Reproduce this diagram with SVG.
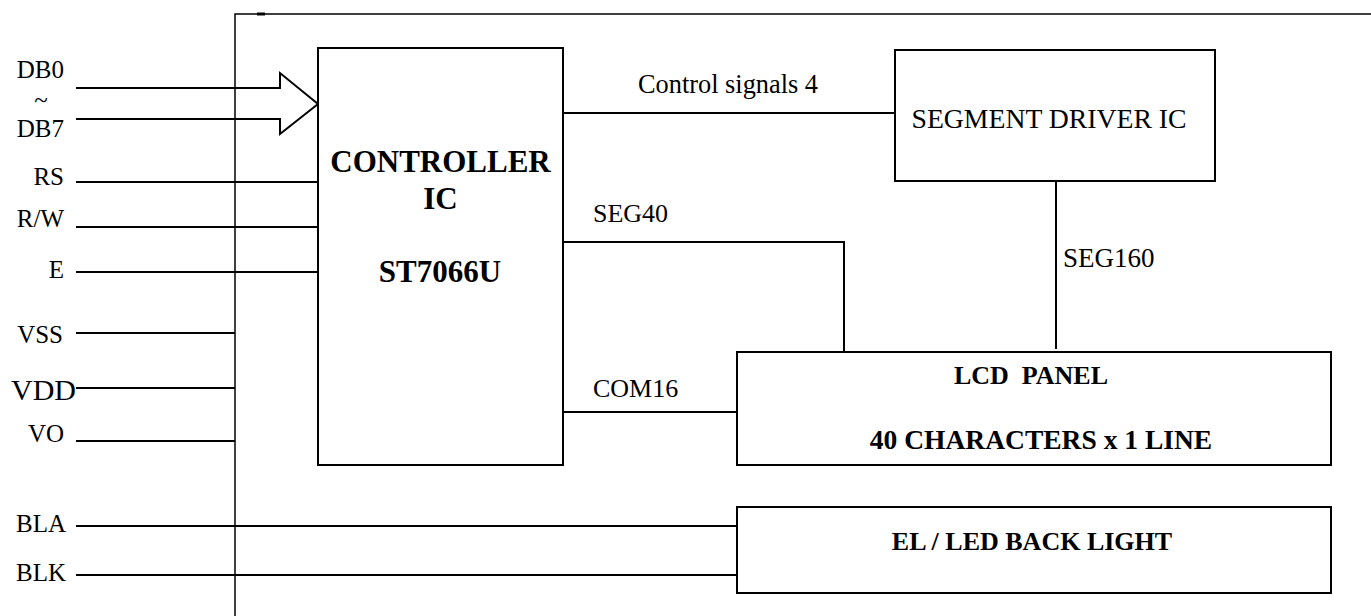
<svg xmlns="http://www.w3.org/2000/svg" width="1371" height="616" viewBox="0 0 1371 616">
<style>
text{font-family:"Liberation Serif","Times New Roman",serif;fill:#000}
.lbl{font-size:25px;text-anchor:end}
.b{font-weight:bold;text-anchor:middle}
.box{fill:#fff;stroke:#000;stroke-width:2}
.w{fill:none;stroke:#000;stroke-width:2}
.f{fill:none;stroke:#000;stroke-width:1.5}
</style>
<rect width="1371" height="616" fill="#fff"/>
<g id="frame">
<path class="f" d="M235,616 V14 H1371"/>
<line x1="257" y1="14" x2="265" y2="14" stroke="#000" stroke-width="3"/>
</g>
<g id="connectors">
<path class="w" d="M76,88 H280 V73 L318,104 L280,134 V119 H76"/>
<path class="w" d="M76,182 H318 M76,227 H318 M76,272 H318"/>
<path class="w" d="M76,333 H235 M76,388 H235 M76,441 H235"/>
<path class="w" d="M76,526 H737 M76,575 H737"/>
<path class="w" d="M563,113 H895"/>
<path class="w" d="M563,242 H844 V352"/>
<path class="w" d="M563,412 H737"/>
<path class="w" d="M1056,181 V349"/>
</g>
<g id="labels-left">
<text class="lbl" x="64" y="78">DB0</text>
<text x="41" y="108" style="font-size:25px;text-anchor:middle">~</text>
<text class="lbl" x="64" y="137">DB7</text>
<text class="lbl" x="64" y="185">RS</text>
<text class="lbl" x="64" y="227">R/W</text>
<text class="lbl" x="64" y="278">E</text>
<text class="lbl" x="63" y="343">VSS</text>
<text x="76" y="400" style="font-size:30px;text-anchor:end">VDD</text>
<text class="lbl" x="64" y="442">VO</text>
<text class="lbl" x="66" y="532">BLA</text>
<text class="lbl" x="66" y="581">BLK</text>
</g>
<g id="controller">
<rect class="box" x="318" y="48" width="245" height="417"/>
<text class="b" x="440.5" y="172" style="font-size:31px">CONTROLLER</text>
<text class="b" x="440.5" y="209" style="font-size:31px">IC</text>
<text class="b" x="440" y="282" style="font-size:31px">ST7066U</text>
</g>
<g id="segment-driver">
<rect class="box" x="895" y="50" width="320" height="131"/>
<text x="1049" y="128" style="font-size:27px;text-anchor:middle" textLength="275" lengthAdjust="spacingAndGlyphs">SEGMENT DRIVER IC</text>
</g>
<g id="lcd-panel">
<rect class="box" x="737" y="352" width="594" height="113"/>
<text class="b" x="1031" y="384" style="font-size:26px" xml:space="preserve">LCD  PANEL</text>
<text class="b" x="1041" y="449" style="font-size:27.5px">40 CHARACTERS x 1 LINE</text>
</g>
<g id="backlight">
<rect class="box" x="737" y="507" width="594" height="86"/>
<text class="b" x="1032" y="550" style="font-size:26px">EL / LED BACK LIGHT</text>
</g>
<g id="connector-labels">
<text x="638" y="93" style="font-size:27px" textLength="180" lengthAdjust="spacingAndGlyphs">Control signals 4</text>
<text x="593" y="222" style="font-size:26px">SEG40</text>
<text x="593" y="397" style="font-size:26px">COM16</text>
<text x="1063" y="267" style="font-size:27px">SEG160</text>
</g>
</svg>
